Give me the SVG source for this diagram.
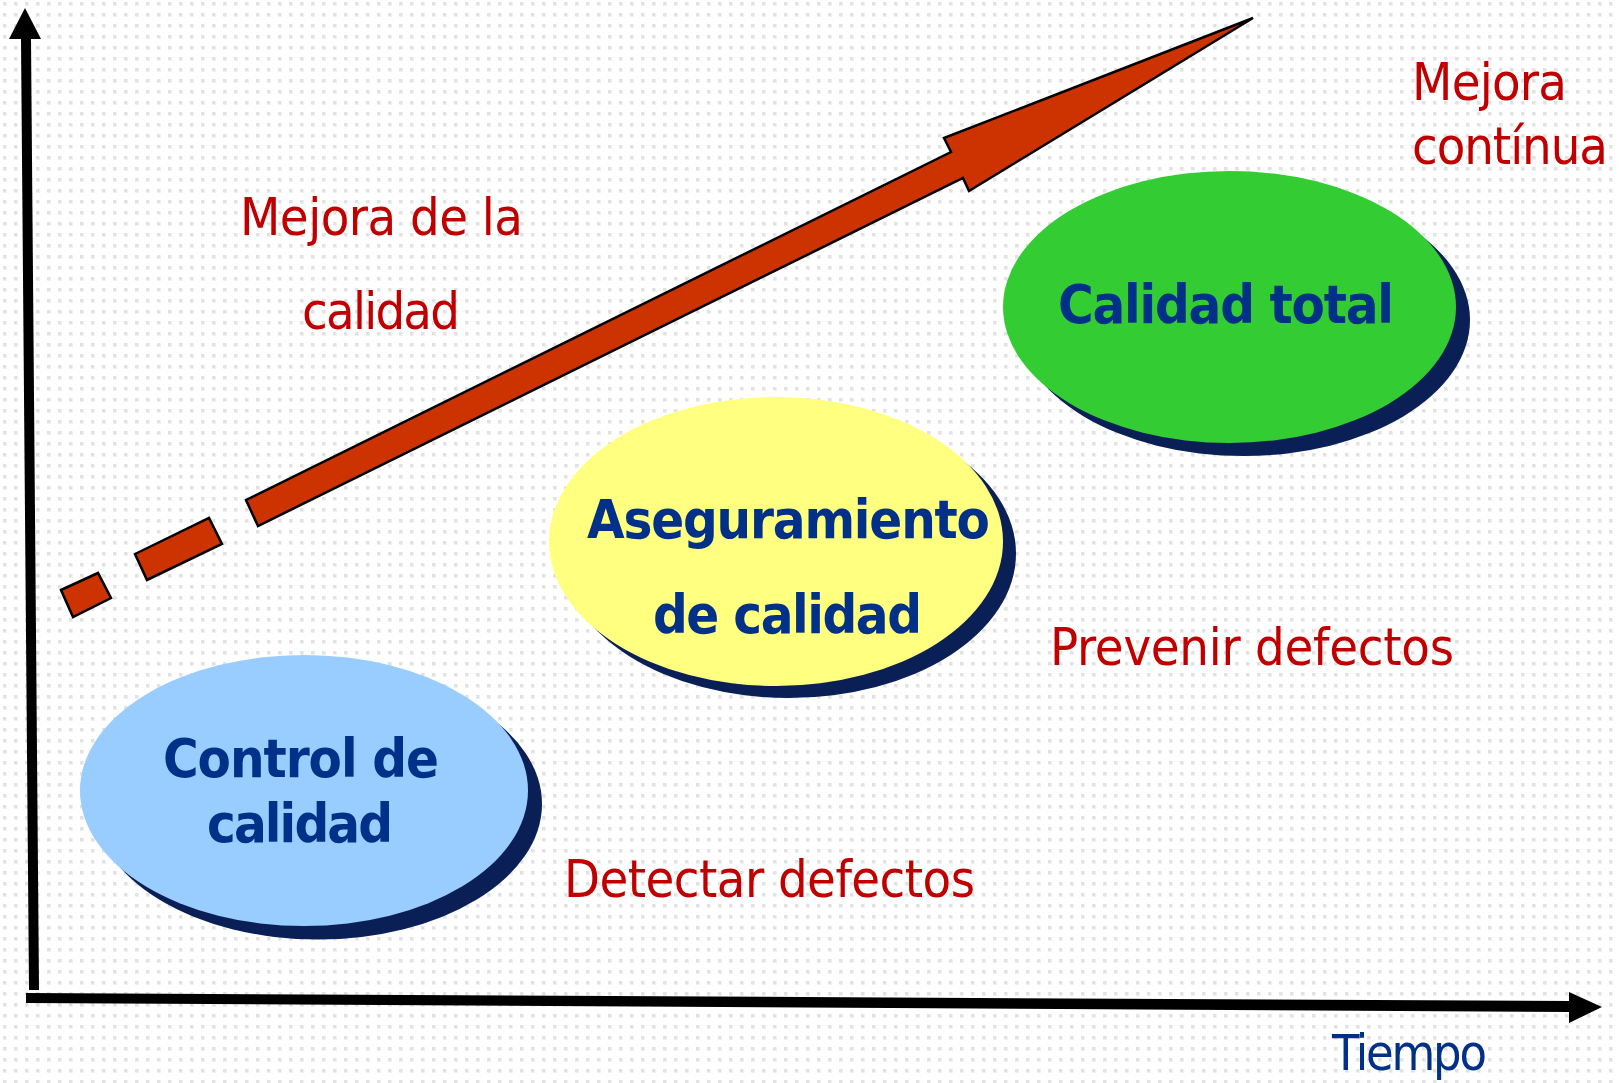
<svg xmlns="http://www.w3.org/2000/svg" width="1619" height="1083" viewBox="0 0 1619 1083">
<style>
.red{font-family:"DejaVu Sans Condensed","DejaVu Sans",sans-serif;font-stretch:condensed;font-size:52px;fill:#C00000}
.node{font-family:"DejaVu Sans Condensed","DejaVu Sans",sans-serif;font-stretch:condensed;font-weight:bold;font-size:54px;fill:#003087}
.axis{fill:#000}
.shadow{fill:#0B1F57}
.big{fill:#CC3300;stroke:#000;stroke-width:2.5;stroke-linejoin:miter}
</style>
<defs>
<pattern id="dots" x="0" y="0" width="11" height="11" patternUnits="userSpaceOnUse">
<rect x="3" y="2" width="4" height="4" fill="#f0f0f0"/>
<rect x="3" y="2" width="3" height="3" fill="#e2e2e2"/>
</pattern>
</defs>
<rect width="1619" height="1083" fill="#fff"/>
<rect width="1619" height="1083" fill="url(#dots)"/>

<g id="connectors">
<g id="y-axis">
<polygon class="axis" points="21,39 31,39 39,990 29,990"/>
<polygon class="axis" points="25,8 41,39 9,39"/>
</g>
<g id="x-axis">
<polygon class="axis" points="26,993 1570,1001 1570,1012 26,1003"/>
<polygon class="axis" points="1569,992 1602,1007 1569,1023"/>
</g>
<g id="quality-arrow">
<polygon class="big" points="61,590 98,573 111,598 73,617"/>
<polygon class="big" points="135,554 209,518 222,544 147,580"/>
<polygon class="big" points="246,500 951,152 944,138 1253,18 969,191 963,178 258,526"/>
</g>
</g>

<g id="node-control">
<ellipse class="shadow" cx="318" cy="804" rx="224" ry="135.5"/>
<ellipse cx="304" cy="790.5" rx="224" ry="135.5" fill="#99CCFF"/>
<text class="node" x="163" y="777" textLength="276">Control de</text>
<text class="node" x="207" y="842" textLength="186">calidad</text>
</g>

<g id="node-aseguramiento">
<ellipse class="shadow" cx="789" cy="553.5" rx="227" ry="144.5"/>
<ellipse cx="776" cy="541.5" rx="227" ry="144.5" fill="#FFFF80"/>
<text class="node" x="587" y="538" textLength="403">Aseguramiento</text>
<text class="node" x="653" y="633" textLength="269">de calidad</text>
</g>

<g id="node-total">
<ellipse class="shadow" cx="1243.5" cy="320" rx="226.5" ry="136"/>
<ellipse cx="1229.5" cy="307" rx="226.5" ry="136" fill="#33CC33"/>
<text class="node" x="1058" y="323" textLength="336">Calidad total</text>
</g>

<g id="labels">
<text class="red" x="240" y="235" textLength="283">Mejora de la</text>
<text class="red" x="302" y="329" textLength="158">calidad</text>
<text class="red" x="1412" y="100" textLength="155">Mejora</text>
<text class="red" x="1412" y="164" textLength="196">contínua</text>
<text class="red" x="1050" y="665" textLength="404">Prevenir defectos</text>
<text class="red" x="564" y="897" textLength="411">Detectar defectos</text>
<text class="red" x="1332" y="1070" textLength="155" style="fill:#003087;font-size:50px">Tiempo</text>
</g>
</svg>
